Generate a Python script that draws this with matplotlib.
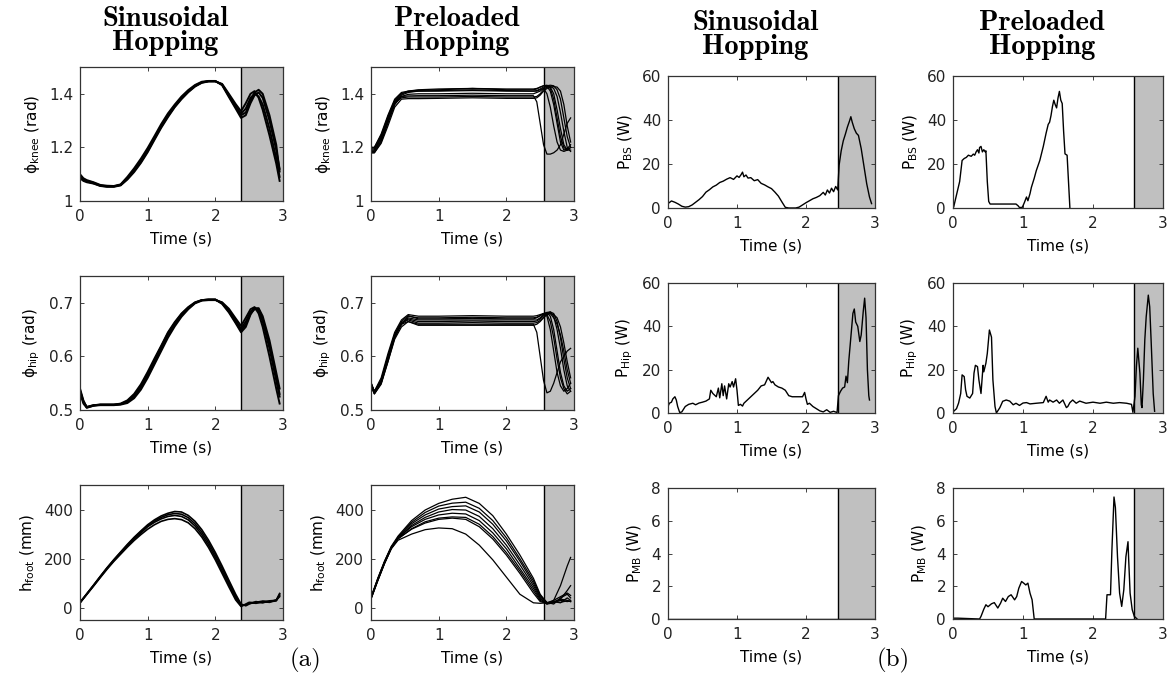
import matplotlib
matplotlib.use("Agg")
import matplotlib.pyplot as plt

plt.rcParams['font.family'] = ['DejaVu Sans']
plt.rcParams['mathtext.fontset'] = 'dejavusans'

# ---- joint angles / foot height, sinusoidal hopping (several trials) ----
t_sin = [0, 0.05, 0.1, 0.2, 0.3, 0.4, 0.5, 0.6, 0.7, 0.8, 0.9, 1.0, 1.1, 1.2, 1.3, 1.4, 1.5,
         1.6, 1.7, 1.8, 1.9, 2.0, 2.1, 2.2, 2.3, 2.38, 2.45, 2.52, 2.58, 2.64, 2.7, 2.8, 2.9, 2.95]

knee_sin = [
    [1.095, 1.08, 1.075, 1.068, 1.058, 1.055, 1.055, 1.06, 1.085, 1.115, 1.15, 1.19, 1.235, 1.28, 1.32, 1.355, 1.385,
     1.41, 1.43, 1.443, 1.447, 1.447, 1.435, 1.395, 1.355, 1.325, 1.345, 1.385, 1.40, 1.39, 1.36, 1.27, 1.16, 1.09],
    [1.10, 1.085, 1.078, 1.07, 1.06, 1.057, 1.056, 1.062, 1.09, 1.122, 1.158, 1.198, 1.242, 1.287, 1.327, 1.36, 1.39,
     1.414, 1.433, 1.445, 1.448, 1.448, 1.432, 1.388, 1.345, 1.31, 1.32, 1.365, 1.395, 1.405, 1.385, 1.30, 1.19, 1.12],
    [1.085, 1.075, 1.07, 1.065, 1.056, 1.053, 1.053, 1.058, 1.08, 1.108, 1.142, 1.182, 1.228, 1.273, 1.313, 1.35, 1.38,
     1.406, 1.427, 1.441, 1.446, 1.446, 1.437, 1.40, 1.362, 1.335, 1.365, 1.40, 1.41, 1.385, 1.34, 1.245, 1.14, 1.075],
    [1.09, 1.078, 1.073, 1.066, 1.057, 1.054, 1.054, 1.06, 1.083, 1.112, 1.146, 1.186, 1.232, 1.277, 1.317, 1.352, 1.383,
     1.408, 1.429, 1.442, 1.447, 1.447, 1.434, 1.392, 1.35, 1.32, 1.33, 1.375, 1.405, 1.415, 1.40, 1.32, 1.21, 1.11],
]

hip_sin = [
    [0.535, 0.515, 0.506, 0.509, 0.51, 0.51, 0.51, 0.511, 0.515, 0.525, 0.542, 0.565, 0.59, 0.615, 0.64, 0.66, 0.677,
     0.69, 0.70, 0.705, 0.706, 0.706, 0.70, 0.686, 0.667, 0.652, 0.665, 0.683, 0.69, 0.685, 0.665, 0.615, 0.555, 0.525],
    [0.54, 0.518, 0.505, 0.508, 0.51, 0.51, 0.51, 0.512, 0.518, 0.53, 0.548, 0.571, 0.596, 0.62, 0.645, 0.664, 0.68,
     0.692, 0.701, 0.705, 0.706, 0.706, 0.698, 0.682, 0.662, 0.645, 0.655, 0.678, 0.69, 0.69, 0.675, 0.63, 0.57, 0.54],
    [0.532, 0.512, 0.504, 0.508, 0.509, 0.509, 0.509, 0.51, 0.513, 0.522, 0.538, 0.56, 0.585, 0.61, 0.635, 0.656, 0.674,
     0.688, 0.699, 0.704, 0.705, 0.705, 0.701, 0.689, 0.671, 0.657, 0.672, 0.688, 0.692, 0.68, 0.655, 0.60, 0.54, 0.512],
    [0.537, 0.516, 0.505, 0.509, 0.51, 0.51, 0.51, 0.511, 0.516, 0.527, 0.545, 0.568, 0.593, 0.618, 0.643, 0.662, 0.679,
     0.691, 0.70, 0.705, 0.706, 0.706, 0.699, 0.684, 0.664, 0.648, 0.66, 0.68, 0.688, 0.688, 0.67, 0.622, 0.562, 0.53],
]

t_foot_sin = [0, 0.1, 0.2, 0.3, 0.4, 0.5, 0.6, 0.7, 0.8, 0.9, 1.0, 1.1, 1.2, 1.3, 1.4, 1.5, 1.6, 1.7, 1.8,
              1.9, 2.0, 2.1, 2.2, 2.3, 2.38, 2.45, 2.5, 2.6, 2.7, 2.8, 2.9, 2.95]
foot_sin = [
    [20, 55, 90, 125, 160, 192, 222, 252, 280, 305, 330, 348, 362, 372, 376, 372, 358, 333, 298,
     255, 205, 150, 95, 40, 8, 12, 18, 20, 22, 24, 28, 50],
    [22, 57, 92, 128, 163, 196, 227, 258, 287, 313, 338, 358, 374, 385, 392, 390, 376, 352, 318,
     275, 225, 170, 112, 55, 15, 8, 15, 25, 20, 28, 30, 55],
    [20, 54, 88, 123, 157, 189, 218, 247, 274, 298, 320, 338, 352, 360, 363, 359, 346, 322, 288,
     245, 195, 140, 85, 32, 5, 15, 22, 18, 25, 22, 32, 45],
    [21, 56, 91, 127, 162, 194, 225, 255, 284, 310, 334, 353, 368, 379, 384, 381, 367, 342, 308,
     265, 215, 160, 104, 48, 12, 10, 20, 22, 27, 26, 30, 58],
]

# ---- preloaded hopping trials ----
t_pre = [0, 0.05, 0.15, 0.25, 0.35, 0.45, 0.55, 0.7, 1.0, 1.5, 2.0, 2.4, 2.45, 2.5, 2.55, 2.6,
         2.65, 2.7, 2.75, 2.8, 2.85, 2.9, 2.95]

knee_pre = [
    [1.19, 1.19, 1.24, 1.31, 1.37, 1.39, 1.392, 1.393, 1.393, 1.395, 1.393, 1.393, 1.37, 1.29, 1.21, 1.175,
     1.175, 1.18, 1.19, 1.21, 1.25, 1.29, 1.31],
    [1.18, 1.18, 1.22, 1.29, 1.36, 1.395, 1.405, 1.41, 1.412, 1.415, 1.412, 1.41, 1.412, 1.418, 1.425, 1.428,
     1.41, 1.36, 1.29, 1.22, 1.19, 1.195, 1.21],
    [1.20, 1.20, 1.25, 1.32, 1.38, 1.405, 1.41, 1.413, 1.415, 1.42, 1.415, 1.415, 1.418, 1.425, 1.43, 1.432,
     1.425, 1.40, 1.34, 1.27, 1.21, 1.19, 1.20],
    [1.19, 1.19, 1.23, 1.30, 1.365, 1.385, 1.388, 1.388, 1.388, 1.39, 1.388, 1.388, 1.39, 1.40, 1.415, 1.425,
     1.428, 1.42, 1.39, 1.33, 1.26, 1.20, 1.185],
    [1.185, 1.185, 1.225, 1.295, 1.36, 1.39, 1.398, 1.40, 1.40, 1.402, 1.40, 1.40, 1.405, 1.41, 1.42, 1.43,
     1.432, 1.43, 1.415, 1.38, 1.31, 1.24, 1.20],
    [1.20, 1.20, 1.245, 1.315, 1.375, 1.40, 1.408, 1.41, 1.41, 1.412, 1.41, 1.41, 1.41, 1.415, 1.42, 1.40,
     1.35, 1.28, 1.22, 1.19, 1.185, 1.19, 1.20],
    [1.18, 1.18, 1.215, 1.28, 1.35, 1.38, 1.382, 1.382, 1.383, 1.385, 1.383, 1.383, 1.385, 1.395, 1.41, 1.42,
     1.425, 1.427, 1.425, 1.41, 1.36, 1.28, 1.22],
    [1.195, 1.195, 1.235, 1.305, 1.37, 1.40, 1.41, 1.415, 1.418, 1.42, 1.418, 1.418, 1.42, 1.425, 1.43, 1.43,
     1.42, 1.38, 1.31, 1.24, 1.20, 1.19, 1.19],
]

hip_pre = [
    [0.55, 0.535, 0.555, 0.60, 0.64, 0.66, 0.665, 0.66, 0.66, 0.66, 0.66, 0.66, 0.645, 0.60, 0.555, 0.532,
     0.535, 0.55, 0.57, 0.59, 0.60, 0.61, 0.615],
    [0.545, 0.53, 0.55, 0.59, 0.635, 0.66, 0.675, 0.672, 0.672, 0.673, 0.672, 0.672, 0.673, 0.676, 0.68, 0.682,
     0.675, 0.65, 0.61, 0.57, 0.545, 0.535, 0.54],
    [0.55, 0.535, 0.56, 0.605, 0.645, 0.668, 0.678, 0.675, 0.675, 0.676, 0.675, 0.675, 0.676, 0.678, 0.68, 0.675,
     0.65, 0.61, 0.57, 0.545, 0.535, 0.54, 0.55],
    [0.548, 0.532, 0.552, 0.595, 0.638, 0.662, 0.672, 0.668, 0.668, 0.668, 0.668, 0.668, 0.668, 0.672, 0.678, 0.682,
     0.683, 0.675, 0.65, 0.615, 0.575, 0.545, 0.535],
    [0.552, 0.533, 0.553, 0.598, 0.64, 0.663, 0.668, 0.662, 0.662, 0.663, 0.662, 0.662, 0.663, 0.667, 0.673, 0.68,
     0.683, 0.68, 0.665, 0.635, 0.595, 0.56, 0.54],
    [0.545, 0.53, 0.548, 0.59, 0.632, 0.655, 0.665, 0.658, 0.658, 0.658, 0.658, 0.658, 0.66, 0.665, 0.672, 0.678,
     0.68, 0.678, 0.672, 0.655, 0.625, 0.59, 0.56],
    [0.55, 0.534, 0.556, 0.60, 0.642, 0.665, 0.676, 0.67, 0.67, 0.671, 0.67, 0.67, 0.672, 0.676, 0.68, 0.678,
     0.665, 0.635, 0.595, 0.56, 0.54, 0.53, 0.535],
    [0.547, 0.531, 0.55, 0.594, 0.636, 0.66, 0.67, 0.665, 0.665, 0.666, 0.665, 0.665, 0.666, 0.67, 0.676, 0.68,
     0.68, 0.672, 0.66, 0.64, 0.61, 0.575, 0.55],
]

t_foot_pre = [0, 0.1, 0.2, 0.3, 0.4, 0.6, 0.8, 1.0, 1.2, 1.4, 1.6, 1.8, 2.0, 2.2, 2.4, 2.5, 2.6,
              2.7, 2.8, 2.9, 2.95]
foot_pre = [
    [35, 110, 180, 240, 275, 300, 318, 325, 322, 300, 255, 195, 125, 55, 20, 18, 20, 25, 22, 28, 25],
    [40, 115, 185, 245, 282, 320, 345, 360, 365, 360, 330, 280, 215, 140, 60, 25, 18, 22, 30, 25, 28],
    [38, 112, 182, 242, 280, 322, 350, 365, 370, 368, 340, 290, 225, 150, 70, 30, 15, 20, 35, 30, 25],
    [42, 118, 188, 248, 285, 330, 360, 378, 385, 382, 355, 305, 240, 160, 80, 35, 18, 25, 20, 40, 30],
    [36, 110, 180, 242, 282, 335, 368, 390, 400, 398, 372, 322, 255, 175, 90, 40, 15, 30, 45, 60, 50],
    [40, 116, 186, 246, 286, 342, 378, 402, 412, 415, 390, 340, 272, 190, 100, 45, 20, 25, 35, 70, 90],
    [38, 114, 184, 245, 288, 348, 388, 414, 426, 430, 405, 355, 285, 200, 110, 50, 22, 15, 40, 55, 40],
    [42, 120, 190, 250, 292, 355, 398, 425, 442, 450, 425, 375, 300, 215, 120, 55, 20, 30, 90, 170, 205],
]

# ---- power, sinusoidal hopping ----
t_bs_sin = [0, 0.05, 0.1, 0.15, 0.2, 0.25, 0.3, 0.35, 0.4, 0.45, 0.5, 0.55, 0.6, 0.65, 0.7, 0.75, 0.8, 0.85,
            0.9, 0.95, 1.0, 1.03, 1.06, 1.08, 1.1, 1.13, 1.16, 1.2, 1.25, 1.3, 1.35, 1.4, 1.45, 1.5, 1.55,
            1.6, 1.65, 1.7, 1.75, 1.8, 1.85, 1.9, 1.95, 2.0, 2.05, 2.1, 2.15, 2.2, 2.25, 2.28, 2.31, 2.34,
            2.37, 2.4, 2.43, 2.46, 2.48, 2.51, 2.54, 2.57, 2.6, 2.63, 2.65, 2.67, 2.7, 2.73, 2.76, 2.8,
            2.84, 2.88, 2.92, 2.95]
p_bs_sin = [2.0, 3.2, 2.6, 1.8, 0.8, 0.4, 0.6, 1.4, 2.6, 3.8, 5.2, 7.2, 8.3, 9.6, 10.4, 11.6, 12.2, 13.1,
            13.8, 13.0, 14.6, 13.9, 15.2, 16.3, 14.2, 15.0, 13.6, 13.8, 12.4, 12.9, 11.2, 10.5, 9.6, 8.8, 7.2,
            5.4, 2.8, 0.3, 0, 0, 0, 0.4, 1.4, 2.4, 3.3, 4.2, 4.8, 5.6, 7.1, 5.9, 8.2, 6.8,
            9.0, 7.4, 9.8, 8.2, 19.5, 26.0, 30.5, 33.5, 36.8, 39.5, 41.5, 39.0, 36.0, 34.0, 33.0, 27.0,
            19.0, 11.0, 5.0, 2.0]

t_hip_sin = [0, 0.02, 0.05, 0.07, 0.1, 0.12, 0.14, 0.17, 0.2, 0.25, 0.3, 0.36, 0.4, 0.45, 0.5, 0.55, 0.6,
             0.62, 0.65, 0.7, 0.73, 0.75, 0.78, 0.8, 0.82, 0.85, 0.88, 0.9, 0.93, 0.95, 0.98, 1.0, 1.02,
             1.05, 1.08, 1.1, 1.15, 1.2, 1.25, 1.3, 1.35, 1.4, 1.45, 1.5, 1.52, 1.55, 1.6, 1.65, 1.7,
             1.75, 1.8, 1.85, 1.9, 1.95, 1.98, 2.0, 2.02, 2.05, 2.1, 2.15, 2.2, 2.25, 2.3, 2.35, 2.4,
             2.45, 2.47, 2.5, 2.53, 2.56, 2.58, 2.6, 2.62, 2.65, 2.68, 2.7, 2.72, 2.75, 2.78, 2.8, 2.83,
             2.85, 2.87, 2.89, 2.91, 2.92]
p_hip_sin = [3.0, 4.5, 5.0, 6.5, 7.5, 6.0, 3.0, 0.2, 0.5, 3.0, 4.0, 4.5, 3.8, 4.6, 5.0, 5.5, 6.5,
             10.5, 9.0, 7.5, 11.5, 7.0, 13.5, 8.0, 12.5, 6.5, 13.5, 12.0, 14.5, 12.0, 15.8, 10.5, 3.5,
             4.0, 3.2, 4.5, 6.0, 7.5, 9.0, 10.5, 12.5, 13.0, 16.5, 14.0, 14.5, 13.0, 12.0, 11.5, 10.5,
             8.0, 7.5, 7.5, 7.5, 7.5, 9.5, 6.5, 4.0, 4.5, 3.0, 2.0, 1.0, 0.5, 1.5, 0.3, 0.8,
             0.2, 8.0, 10.0, 11.5, 12.0, 17.0, 14.0, 24.0, 35.0, 46.0, 48.0, 42.0, 40.0, 33.0, 36.0, 47.0,
             53.0, 44.0, 20.0, 8.0, 6.0]

t_mb_sin = [0, 3.0]
p_mb_sin = [0, 0]

# ---- power, preloaded hopping ----
t_bs_pre = [0.0, 0.01, 0.06, 0.095, 0.13, 0.16, 0.19, 0.22, 0.26, 0.29, 0.31, 0.33, 0.35, 0.37, 0.38, 0.40,
            0.42, 0.44, 0.46, 0.47, 0.49, 0.51, 0.53, 0.7, 0.9, 0.93, 0.95, 0.99, 1.02, 1.05, 1.07, 1.10,
            1.12, 1.16, 1.19, 1.24, 1.29, 1.33, 1.36, 1.38, 1.40, 1.42, 1.44, 1.46, 1.48, 1.50, 1.52,
            1.54, 1.56, 1.58, 1.60, 1.63, 1.65, 1.67]
p_bs_pre = [0, 0.5, 7.3, 12, 21.6, 22.5, 23, 24, 23.5, 24.5, 24, 25.5, 26.5, 25, 27.5, 28,
            25.5, 26.5, 25.5, 26, 12, 3, 1.8, 1.8, 1.8, 1.0, 0.2, 0.3, 2.5, 5.0, 3.3, 6.5,
            9.4, 13.5, 17, 21.6, 28, 34, 38, 39, 42, 46, 49, 47, 45.5, 50, 53,
            49, 47.5, 35, 24.6, 24, 12, 0]

t_hip_pre = [0.01, 0.05, 0.08, 0.11, 0.13, 0.16, 0.18, 0.20, 0.24, 0.28, 0.30, 0.32, 0.35, 0.37, 0.40,
             0.43, 0.44, 0.47, 0.49, 0.52, 0.55, 0.57, 0.60, 0.62, 0.67, 0.71, 0.76, 0.81, 0.86, 0.9,
             0.95, 1.0, 1.05, 1.1, 1.19, 1.29, 1.33, 1.36, 1.38, 1.43, 1.48, 1.52, 1.57, 1.62, 1.64,
             1.67, 1.71, 1.76, 1.81, 1.90, 2.0, 2.10, 2.19, 2.29, 2.38, 2.48, 2.55, 2.57, 2.60, 2.62,
             2.64, 2.67, 2.69, 2.70, 2.72, 2.74, 2.76, 2.79, 2.81, 2.83, 2.86, 2.88]
p_hip_pre = [0.8, 2.0, 4.6, 9, 17.6, 16.8, 10.7, 7.7, 6.9, 9, 18.4, 22, 21.4, 15.3, 9,
             22, 19, 23, 27.5, 38.3, 35, 15.3, 3, 0, 2.5, 5.4, 6, 5.5, 3.8, 4.5,
             3.5, 4.6, 4.8, 4.2, 4.5, 4.8, 7.7, 5.0, 6.0, 5.0, 6.0, 4.5, 6.0, 2.5, 3.0,
             4.8, 6.0, 4.5, 5.5, 4.5, 5.0, 4.5, 5.0, 4.5, 4.8, 4.5, 4.0, 0.3, 7.7, 21.4,
             29.9, 18.4, 3.8, 2.5, 15.3, 33.7, 44.4, 54.4, 49, 33.7, 9, 0.8]

t_mb_pre = [0, 0.07, 0.38, 0.40, 0.44, 0.47, 0.50, 0.55, 0.59, 0.64, 0.68, 0.71, 0.75, 0.79, 0.83,
            0.88, 0.91, 0.94, 0.98, 1.01, 1.04, 1.07, 1.10, 1.13, 1.16, 2.18, 2.2, 2.25, 2.27, 2.30,
            2.32, 2.35, 2.38, 2.41, 2.44, 2.47, 2.50, 2.51, 2.53, 2.56, 2.59, 2.63]
p_mb_pre = [0.05, 0.05, 0, 0.16, 0.6, 0.87, 0.75, 0.93, 1.0, 0.67, 0.97, 1.27, 1.07, 1.37, 1.48,
            1.17, 1.37, 1.88, 2.29, 2.19, 2.08, 2.19, 1.58, 1.17, 0, 0, 1.48, 1.48, 4.2, 7.45,
            6.8, 3.8, 1.58, 0.77, 1.78, 3.8, 4.72, 3.6, 1.58, 0.57, 0.16, 0]

# start of the shaded stance phase for each column
stance_start = [2.38, 2.55, 2.46, 2.58]

W, H = 1169, 684
fig = plt.figure(figsize=(W / 100, H / 100), dpi=100)

col_x = [(80, 283), (371, 574), (668, 875), (953, 1163)]
rows_ab = [(67, 201), (276, 410), (485, 620)]
rows_cd = [(76, 208), (283, 413), (488, 619)]

FS = 11


def make_ax(col, row):
    x0, x1 = col_x[col]
    y0, y1 = (rows_ab if col < 2 else rows_cd)[row]
    ax = fig.add_axes([x0 / W, 1 - y1 / H, (x1 - x0) / W, (y1 - y0) / H])
    ax.axvspan(stance_start[col], 3, color='#c0c0c0', zorder=0, lw=0)
    ax.axvline(stance_start[col], color='k', lw=1.0, zorder=1)
    ax.set_xlim(0, 3)
    ax.set_xticks([0, 1, 2, 3])
    ax.tick_params(direction='in', top=True, right=True, length=3, width=0.6,
                   labelsize=FS, colors='#222222')
    ax.tick_params(axis='x', pad=6)
    ax.tick_params(axis='y', pad=5)
    for s in ax.spines.values():
        s.set_color('#333333')
        s.set_linewidth(0.9)
    ax.set_xlabel('Time (s)', fontsize=FS, labelpad=5)
    return ax


lbl = dict(fontsize=FS, labelpad=5)

# column a: sinusoidal angles
ax = make_ax(0, 0)
for y in knee_sin:
    ax.plot(t_sin, y, color='k', lw=1.4)
ax.set_ylim(1, 1.5)
ax.set_yticks([1, 1.2, 1.4])
ax.set_yticklabels(['1', '1.2', '1.4'])
ax.set_ylabel(r'$\mathregular{\phi_{knee}}$ (rad)', **lbl)

ax = make_ax(0, 1)
for y in hip_sin:
    ax.plot(t_sin, y, color='k', lw=1.4)
ax.set_ylim(0.5, 0.75)
ax.set_yticks([0.5, 0.6, 0.7])
ax.set_ylabel(r'$\mathregular{\phi_{hip}}$ (rad)', **lbl)

ax = make_ax(0, 2)
for y in foot_sin:
    ax.plot(t_foot_sin, y, color='k', lw=1.2)
ax.set_ylim(-50, 500)
ax.set_yticks([0, 200, 400])
ax.set_ylabel(r'$\mathregular{h_{foot}}$ (mm)', **lbl)

# column b: preloaded angles
ax = make_ax(1, 0)
for y in knee_pre:
    ax.plot(t_pre, y, color='k', lw=0.9)
ax.set_ylim(1, 1.5)
ax.set_yticks([1, 1.2, 1.4])
ax.set_yticklabels(['1', '1.2', '1.4'])
ax.set_ylabel(r'$\mathregular{\phi_{knee}}$ (rad)', **lbl)

ax = make_ax(1, 1)
for y in hip_pre:
    ax.plot(t_pre, y, color='k', lw=0.9)
ax.set_ylim(0.5, 0.75)
ax.set_yticks([0.5, 0.6, 0.7])
ax.set_ylabel(r'$\mathregular{\phi_{hip}}$ (rad)', **lbl)

ax = make_ax(1, 2)
for y in foot_pre:
    ax.plot(t_foot_pre, y, color='k', lw=0.9)
ax.set_ylim(-50, 500)
ax.set_yticks([0, 200, 400])
ax.set_ylabel(r'$\mathregular{h_{foot}}$ (mm)', **lbl)

# columns c, d: power
power = [
    (2, 0, t_bs_sin, p_bs_sin, 'BS'), (2, 1, t_hip_sin, p_hip_sin, 'Hip'), (2, 2, t_mb_sin, p_mb_sin, 'MB'),
    (3, 0, t_bs_pre, p_bs_pre, 'BS'), (3, 1, t_hip_pre, p_hip_pre, 'Hip'), (3, 2, t_mb_pre, p_mb_pre, 'MB'),
]
for col, row, t, p, name in power:
    ax = make_ax(col, row)
    ax.plot(t, p, color='k', lw=1.0)
    if name == 'MB':
        ax.set_ylim(0, 8)
        ax.set_yticks([0, 2, 4, 6, 8])
    else:
        ax.set_ylim(0, 60)
        ax.set_yticks([0, 20, 40, 60])
    ax.set_ylabel(r'$\mathregular{P_{%s}}$ (W)' % name, **lbl)

# column headers, centred over axes + ylabel
headers = ['Sinusoidal\nHopping', 'Preloaded\nHopping', 'Sinusoidal\nHopping', 'Preloaded\nHopping']
header_y = [31, 31, 35, 35]
for (x0, x1), head, yc in zip(col_x, headers, header_y):
    xc = ((x0 + x1) / 2 - 16) / W
    fig.text(xc, 1 - yc / H, head, ha='center', va='center', multialignment='center',
             family='cmb10', fontsize=20.5, linespacing=0.86)

fig.text(305 / W, 1 - 666 / H, '(a)', ha='center', va='baseline', family='cmr10', fontsize=18)
fig.text(893 / W, 1 - 666 / H, '(b)', ha='center', va='baseline', family='cmr10', fontsize=18)

fig.savefig('out.png', dpi=100)
